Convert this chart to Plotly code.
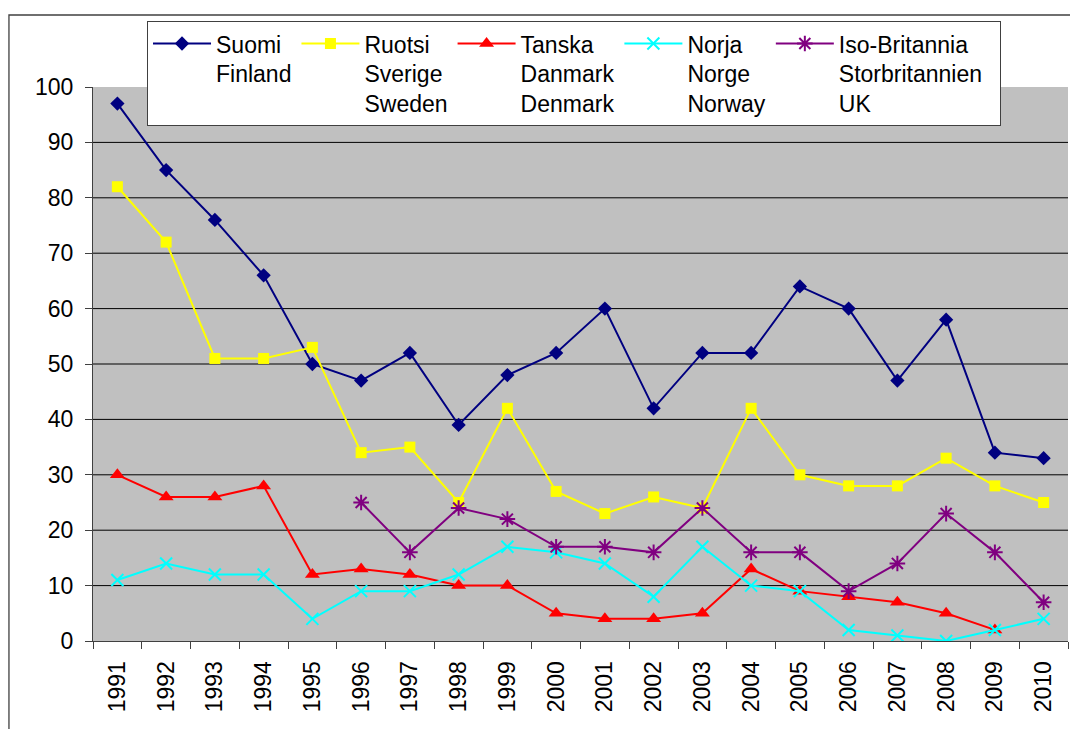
import plotly.graph_objects as go

# Years on the category axis
years = [str(y) for y in range(1991, 2011)]

# Series values per country
suomi = [97, 85, 76, 66, 50, 47, 52, 39, 48, 52, 60, 42, 52, 52, 64, 60, 47, 58, 34, 33]
ruotsi = [82, 72, 51, 51, 53, 34, 35, 25, 42, 27, 23, 26, 24, 42, 30, 28, 28, 33, 28, 25]
tanska = [30, 26, 26, 28, 12, 13, 12, 10, 10, 5, 4, 4, 5, 13, 9, 8, 7, 5, 2, None]
norja = [11, 14, 12, 12, 4, 9, 9, 12, 17, 16, 14, 8, 17, 10, 9, 2, 1, 0, 2, 4]
iso_britannia = [None, None, None, None, None, 25, 16, 24, 22, 17, 17, 16, 24, 16, 16, 9, 14, 23, 16, 7]

# Legend labels (three languages per country)
names = [
    "Suomi<br>Finland",
    "Ruotsi<br>Sverige<br>Sweden",
    "Tanska<br>Danmark<br>Denmark",
    "Norja<br>Norge<br>Norway",
    "Iso-Britannia<br>Storbritannien\u00a0\u00a0<br>UK",
]

# Axis ticks and gridline levels
y_ticks = list(range(0, 101, 10))
grid_levels = list(range(10, 100, 10))

FONT = "Liberation Sans, Arial, sans-serif"

series = [
    (suomi, names[0], "#000080", dict(symbol="diamond", size=11, color="#000080")),
    (ruotsi, names[1], "#FFFF00", dict(symbol="square", size=11, color="#FFFF00")),
    (tanska, names[2], "#FF0000", dict(symbol="triangle-up", size=13, color="#FF0000")),
    (norja, names[3], "#00FFFF", dict(symbol="x-thin", size=12, color="#00FFFF",
                                      line=dict(color="#00FFFF", width=2))),
    (iso_britannia, names[4], "#800080", dict(symbol="asterisk", size=13, color="#800080",
                                              line=dict(color="#800080", width=2))),
]

fig = go.Figure()
for values, name, color, marker in series:
    fig.add_trace(go.Scatter(
        x=years, y=values, name=name, mode="lines+markers",
        line=dict(color=color, width=2), marker=marker,
        hoverinfo="skip",
    ))

# Horizontal gridlines inside the plot area
for lvl in grid_levels:
    fig.add_shape(type="line", xref="paper", yref="y", x0=0, x1=1, y0=lvl, y1=lvl,
                  line=dict(color="black", width=1), layer="below")

# Chart frame
fig.add_shape(type="rect", xref="paper", yref="paper",
              x0=-0.0862, x1=1.2, y0=-0.3, y1=1.130,
              line=dict(color="#404040", width=1.3), fillcolor="rgba(0,0,0,0)")

fig.update_layout(
    width=1070, height=729,
    margin=dict(l=93, r=2, t=87, b=88),
    paper_bgcolor="white", plot_bgcolor="#C0C0C0",
    font=dict(family=FONT, size=23, color="black"),
    showlegend=True,
    legend=dict(
        orientation="h", x=0.0554, y=1.119, xanchor="left", yanchor="top",
        bgcolor="white", bordercolor="#404040", borderwidth=1,
        font=dict(family=FONT, size=23, color="black"),
        valign="top", itemwidth=58, entrywidthmode="pixels", entrywidth=0,
        traceorder="normal",
    ),
    xaxis=dict(
        type="category", range=[-0.5, len(years) - 0.5],
        tickson="boundaries", ticks="outside", ticklen=7,
        tickcolor="#404040", showline=True, linecolor="#404040", linewidth=1,
        tickangle=-90, showgrid=False, zeroline=False, ticklabelstandoff=10,
        tickfont=dict(family=FONT, size=23),
    ),
    yaxis=dict(
        range=[0, 100], tickmode="array", tickvals=y_ticks,
        ticks="outside", ticklen=7, tickcolor="#404040",
        showline=True, linecolor="#404040", linewidth=1,
        showgrid=False, zeroline=False, ticklabelstandoff=7,
        tickfont=dict(family=FONT, size=23),
    ),
)

fig.write_html("out.html")
